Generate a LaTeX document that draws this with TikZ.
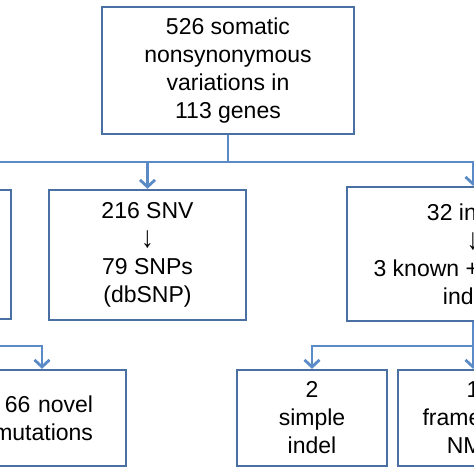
\documentclass[tikz,border=0pt]{standalone}
\usepackage{fontspec}
\setmainfont{Liberation Sans}
\usetikzlibrary{arrows.meta}
\definecolor{linkblue}{HTML}{5B8BC7}
\definecolor{boxblue}{HTML}{4A70A3}
\newcommand{\downarr}{\raisebox{-1pt}{\scalebox{1.1}[1.3]{\char"2193}}}
\begin{document}
\begin{tikzpicture}[x=1pt,y=-1pt,
  box/.style={draw=boxblue, line width=2.4pt, fill=white, inner sep=0pt, align=center,
    font=\fontsize{23}{28}\selectfont},
  link/.style={draw=linkblue, line width=2.8pt},
  arr/.style={-{Straight Barb[length=7pt,width=15pt]}}]
\useasboundingbox (0,0) rectangle (474,474);
\clip (0,0) rectangle (474,474);
\fill[white] (0,0) rectangle (474,474);
% nodes
\node[box, minimum width=252pt, minimum height=127pt] (top) at (228,70.5)
  {526 somatic\\nonsynonymous\\variations in\\113 genes};
\node[box, minimum width=198pt, minimum height=129pt] (left) at (-88,254.5) {};
\node[box, minimum width=197pt, minimum height=130pt] (snv) at (147.5,255)
  {216 SNV\\\downarr\\79 SNPs\\(dbSNP)};
\node[box, minimum width=252pt, minimum height=134pt] (ind) at (473,254)
  {32 indels\\\downarr\\3 known + 29 novel\\indels};
\node[box, minimum width=168pt, minimum height=96pt, text width=102pt, align=right] (ll) at (42,418)
  {66 novel\\mutations};
\node[box, minimum width=150pt, minimum height=96pt] (b2) at (312,418)
  {2\\simple\\indel};
\node[box, minimum width=150pt, minimum height=96pt] (b3) at (473,418)
  {1\\frameshift\\NMD};
% connectors
\coordinate (j) at (228,162);
\coordinate (m) at (473,346);
\draw[link] (top.south) -- (j);
\draw[link,arr] (j) -| (ind.north);
\draw[link,arr] (j) -| (left.north);
\draw[link,arr] (snv.north |- j) -- (snv.north);
\draw[link,arr] (left.south) |- (0,346) -| (ll.north);
\draw[link,arr] (ind.south) -- (b3.north);
\draw[link,arr] (m) -| (b2.north);
\end{tikzpicture}
\end{document}
